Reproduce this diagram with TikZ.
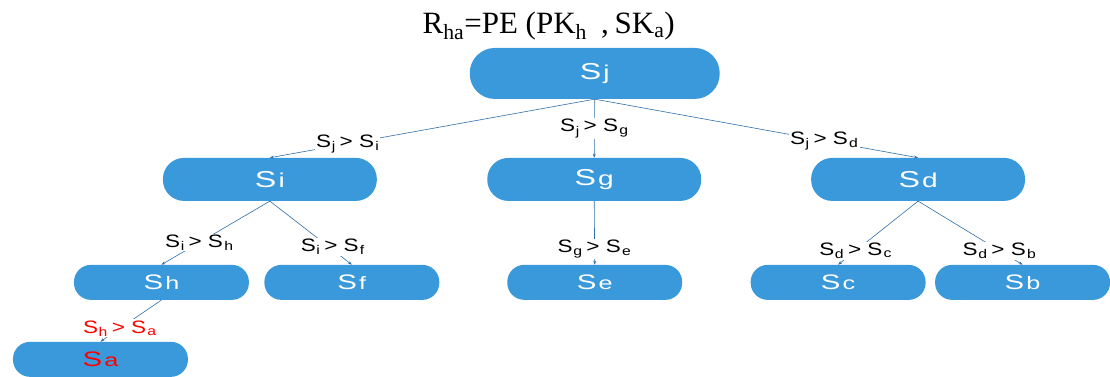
\documentclass[tikz,border=0pt]{standalone}
\usepackage{graphicx}
\usepackage{fontspec}
\setmainfont{Liberation Serif}
\setsansfont{Liberation Sans}
\usetikzlibrary{arrows.meta}
\definecolor{nodeblue}{HTML}{3A99DB}
\definecolor{edgeblue}{HTML}{2F6FA8}
\def\subsize{18}
% node text: wide S with a near full-size letter after it
\newcommand{\nlab}[1]{\scalebox{1.4}[1]{S\hspace{1.5pt}{\fontsize{\subsize}{\subsize}\selectfont #1}}}
% edge label: S_a > S_b
\newcommand{\cmplab}[2]{\scalebox{1.25}[1]{S\hspace{0.5pt}\textsubscript{#1}\hspace{3pt}>\hspace{5pt}S\hspace{1pt}\textsubscript{#2}}}
\tikzset{keybox/.style={fill=nodeblue, draw=none, text=white, inner sep=0pt},
	bigbox/.style={keybox, minimum width=250pt, minimum height=51pt, rounded corners=25pt,
		font=\sffamily\fontsize{23}{23}\selectfont\def\subsize{20}},
	midbox/.style={keybox, minimum width=214pt, minimum height=43pt, rounded corners=21pt,
		font=\sffamily\fontsize{23}{23}\selectfont\def\subsize{20}},
	lowbox/.style={keybox, minimum width=175pt, minimum height=35pt, rounded corners=17pt,
		font=\sffamily\fontsize{21}{21}\selectfont\def\subsize{18}},
	cmp/.style={fill=white, inner sep=1pt, font=\sffamily\fontsize{18}{18}\selectfont},
	link/.style={draw=edgeblue, line width=0.6pt, -{Stealth[length=4pt,width=3pt]}}}

\begin{document}
\begin{tikzpicture}[x=1pt, y=-1pt]
	\fill[white] (0,0) rectangle (1110,376);

	\node (title) at (549,26) {\fontsize{31}{31}\selectfont R\textsubscript{ha}=PE (PK\textsubscript{h}\hspace{14pt},\hspace{6pt}SK\textsubscript{a})};

	\node[bigbox] (sj) at (595,73.5) {\nlab{j}};

	\node[midbox] (si) at (270,179.5) {\nlab{i}};
	\node[midbox] (sg) at (594.5,179.5) {\nlab{g}};
	\node[midbox] (sd) at (918.5,179.5) {\nlab{d}};

	\node[lowbox] (sh) at (161.5,282.5) {\nlab{h}};
	\node[lowbox] (sf) at (352,282.5) {\nlab{f}};
	\node[lowbox] (se) at (595,282.5) {\nlab{e}};
	\node[lowbox] (sc) at (838.5,282.5) {\nlab{c}};
	\node[lowbox] (sb) at (1023,282.5) {\nlab{b}};

	\node[lowbox, text=red] (sa) at (100.5,359.5) {\nlab{a}};

	\draw[link] (sj.south) -- node[cmp, pos=0.76] {\cmplab{j}{i}} (si.north);
	\draw[link] (sj.south) -- node[cmp, pos=0.5] {\cmplab{j}{g}} (sg.north);
	\draw[link] (sj.south) -- node[cmp, pos=0.71] {\cmplab{j}{d}} (sd.north);

	\draw[link] (si.south) -- node[cmp, pos=0.65] {\cmplab{i}{h}} (sh.north);
	\draw[link] (si.south) -- node[cmp, pos=0.72, xshift=4pt] {\cmplab{i}{f}} (sf.north);
	\draw[link] (sg.south) -- node[cmp, pos=0.75] {\cmplab{g}{e}} (se.north);
	\draw[link] (sd.south) -- node[cmp, pos=0.78] {\cmplab{d}{c}} (sc.north);
	\draw[link] (sd.south) -- node[cmp, pos=0.78] {\cmplab{d}{b}} (sb.north);

	\draw[link] (sh.south) -- node[cmp, pos=0.68, text=red] {\cmplab{h}{a}} (sa.north);
\end{tikzpicture}
\end{document}
